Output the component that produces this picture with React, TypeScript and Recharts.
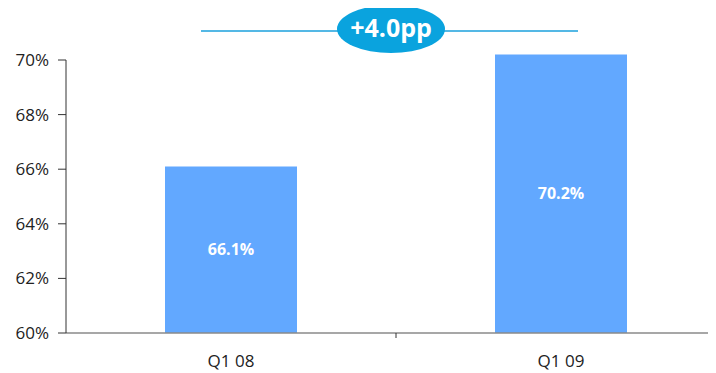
import React from "react";
import { BarChart, Bar, XAxis, YAxis, LabelList } from "recharts";

const categories = ["Q1 08", "Q1 09"];
const values = [66.1, 70.2];
const yTicks = [60, 62, 64, 66, 68, 70];
const changeLabel = "+4.0pp";

const data = categories.map((c, i) => ({ name: c, value: values[i] }));
const FONT = "'Open Sans', 'Noto Sans', sans-serif";

export default function App() {
  return (
    <div style={{ position: "relative", width: 708, height: 365, overflow: "hidden", fontFamily: FONT }}>
      <style>{`.recharts-bar, .recharts-bar-rectangles, .recharts-label-list { clip-path: none !important; }`}</style>
      <BarChart
        width={718}
        height={365}
        data={data}
        margin={{ top: 52, right: 0, bottom: 0, left: 0 }}
      >
        <XAxis
          dataKey="name"
          tickLine={false}
          tickSize={0}
          tickMargin={22}
          height={40}
          axisLine={{ stroke: "#8a8a8a", strokeWidth: 1.5 }}
          tick={{ fill: "#222", fontSize: 17, fontFamily: FONT }}
        />
        <YAxis
          domain={[60, 70]}
          ticks={yTicks}
          width={58}
          tickSize={8}
          tickMargin={9}
          interval={0}
          allowDataOverflow
          tickFormatter={(v) => `${v}%`}
          axisLine={{ stroke: "#333", strokeWidth: 1 }}
          tickLine={{ stroke: "#333" }}
          tick={{ fill: "#222", fontSize: 17, fontFamily: FONT }}
        />
        <Bar dataKey="value" fill="#62A8FF" barSize={132} isAnimationActive={false}>
          <LabelList
            dataKey="value"
            position="center"
            formatter={(v: number) => `${v.toFixed(1)}%`}
            style={{ fill: "#fff", fontSize: 16, fontWeight: 700, fontFamily: FONT }}
          />
        </Bar>
      </BarChart>
      <svg
        width={708}
        height={365}
        style={{ position: "absolute", left: 0, top: 0, pointerEvents: "none" }}
      >
        <line x1={388} y1={325} x2={388} y2={330} stroke="#333" strokeWidth={1} />
        <line x1={193} y1={23} x2={570} y2={23} stroke="#1BA1DC" strokeWidth={1.5} />
        <ellipse cx={383} cy={21} rx={54} ry={24} fill="#0AA3DE" />
        <text
          x={383}
          y={22}
          textAnchor="middle"
          dominantBaseline="middle"
          fill="#fff"
          fontSize={25}
          fontWeight={700}
          fontFamily={FONT}
        >
          {changeLabel}
        </text>
      </svg>
    </div>
  );
}
